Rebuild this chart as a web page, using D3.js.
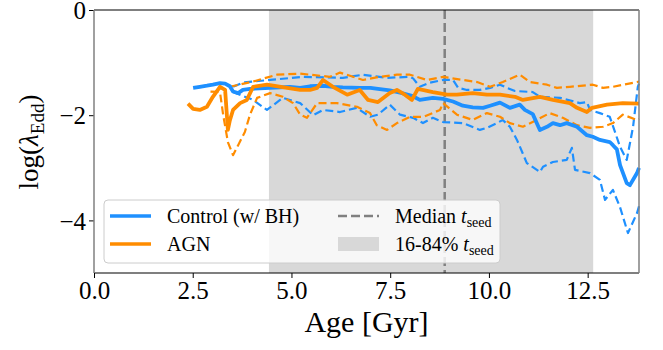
<!DOCTYPE html>
<html>
<head>
<meta charset="utf-8">
<script src="https://cdn.jsdelivr.net/npm/d3@7"></script>
<style>
  body { margin: 0; background: #fff; }
  svg text { font-family: "Liberation Serif", "DejaVu Serif", serif; }
</style>
</head>
<body>
<svg id="chart" width="663" height="350"></svg>
<script>
// data: [age in Gyr, log(lambda_Edd)]
const controlMedian = [
  [2.51,-1.48],[2.68,-1.46],[2.86,-1.44],[3.01,-1.42],[3.19,-1.39],[3.32,-1.40],[3.44,-1.45],[3.52,-1.55],
  [3.65,-1.58],[3.77,-1.52],[3.95,-1.50],[4.20,-1.49],[4.46,-1.48],[4.96,-1.46],[5.22,-1.48],[5.47,-1.45],
  [5.80,-1.44],[6.05,-1.46],[6.30,-1.47],[6.73,-1.48],[7.00,-1.48],[7.19,-1.50],[7.49,-1.53],[7.75,-1.57],
  [8.05,-1.63],[8.25,-1.71],[8.58,-1.67],[8.84,-1.69],[9.09,-1.74],[9.34,-1.82],[9.59,-1.85],[9.85,-1.86],
  [10.03,-1.82],[10.28,-1.76],[10.53,-1.86],[10.78,-1.80],[10.91,-1.90],[11.11,-1.98],[11.29,-2.28],[11.47,-2.22],
  [11.62,-2.15],[11.80,-2.19],[11.97,-2.15],[12.23,-2.22],[12.48,-2.38],[12.63,-2.41],[12.81,-2.47],[13.06,-2.51],
  [13.14,-2.57],[13.24,-2.65],[13.32,-2.95],[13.49,-3.29],[13.57,-3.33],[13.75,-3.10],[13.80,-3.00]
];
const controlHigh = [
  [3.52,-1.46],[3.77,-1.38],[4.03,-1.36],[4.46,-1.33],[5.29,-1.27],[6.30,-1.29],[6.81,-1.23],[7.42,-1.29],
  [8.00,-1.27],[8.08,-1.30],[8.25,-1.46],[8.51,-1.38],[8.84,-1.33],[9.09,-1.33],[9.22,-1.48],[9.44,-1.52],
  [9.77,-1.52],[10.03,-1.48],[10.28,-1.42],[10.46,-1.48],[10.66,-1.54],[11.11,-1.56],[11.29,-1.65],[11.80,-1.67],
  [12.30,-1.77],[12.48,-1.75],[12.56,-1.90],[12.81,-1.96],[13.06,-2.03],[13.32,-2.60],[13.49,-2.85],[13.65,-2.22],
  [13.77,-1.46],[13.80,-1.40]
];
const controlLow = [
  [3.52,-1.56],[4.03,-1.71],[4.38,-1.90],[4.78,-1.67],[5.22,-1.77],[5.55,-2.00],[5.80,-1.90],[6.23,-1.94],
  [6.65,-1.86],[6.99,-2.03],[7.19,-1.99],[7.49,-1.80],[7.75,-1.99],[8.08,-2.05],[8.33,-2.15],[8.58,-2.05],
  [8.84,-2.13],[9.34,-2.15],[9.77,-2.28],[9.95,-2.24],[10.20,-2.15],[10.35,-2.09],[10.53,-2.22],[10.71,-2.47],
  [10.96,-2.91],[11.29,-3.08],[11.37,-2.98],[11.62,-2.89],[11.97,-2.85],[12.10,-2.62],[12.18,-3.04],[12.56,-3.10],
  [12.81,-3.23],[12.94,-3.61],[13.14,-3.42],[13.32,-3.75],[13.52,-4.24],[13.75,-3.86],[13.80,-3.73]
];
const agnMedian = [
  [2.38,-1.78],[2.51,-1.88],[2.68,-1.90],[2.86,-1.84],[3.01,-1.65],[3.19,-1.46],[3.32,-1.52],[3.39,-2.28],
  [3.44,-2.10],[3.52,-1.90],[3.70,-1.77],[3.87,-1.71],[4.03,-1.46],[4.38,-1.42],[4.89,-1.48],[5.22,-1.52],
  [5.47,-1.52],[5.65,-1.48],[5.80,-1.33],[6.05,-1.46],[6.41,-1.61],[6.73,-1.52],[6.94,-1.71],[7.19,-1.75],
  [7.49,-1.58],[7.67,-1.52],[7.87,-1.61],[8.05,-1.71],[8.20,-1.50],[8.58,-1.56],[8.94,-1.61],[9.19,-1.61],
  [9.59,-1.58],[9.95,-1.61],[10.28,-1.61],[10.66,-1.65],[10.86,-1.71],[11.29,-1.65],[11.62,-1.71],[12.05,-1.77],
  [12.23,-1.86],[12.48,-1.94],[12.61,-1.86],[12.99,-1.80],[13.39,-1.77],[13.80,-1.78]
];
const agnHigh = [
  [3.44,-1.46],[4.03,-1.36],[4.63,-1.23],[5.22,-1.21],[5.97,-1.27],[6.23,-1.19],[6.81,-1.33],[7.24,-1.27],
  [7.67,-1.23],[8.00,-1.23],[8.43,-1.33],[8.84,-1.27],[9.34,-1.33],[9.70,-1.37],[10.03,-1.46],[10.35,-1.37],
  [10.78,-1.23],[11.04,-1.37],[11.47,-1.42],[11.72,-1.48],[12.05,-1.46],[12.63,-1.42],[12.89,-1.48],[13.14,-1.46],
  [13.75,-1.37],[13.80,-1.36]
];
const agnLow = [
  [2.95,-1.55],[3.19,-1.56],[3.27,-1.99],[3.39,-2.51],[3.52,-2.76],[3.65,-2.57],[3.82,-2.32],[3.95,-1.99],
  [4.13,-1.67],[4.46,-1.58],[4.78,-1.65],[5.04,-1.77],[5.22,-1.99],[5.39,-2.05],[5.65,-1.77],[6.15,-1.77],
  [6.66,-1.84],[6.99,-1.96],[7.16,-2.19],[7.42,-2.28],[7.67,-2.15],[8.00,-2.03],[8.35,-2.03],[8.76,-1.90],
  [8.84,-1.77],[9.19,-1.99],[9.59,-2.09],[9.95,-1.96],[10.28,-2.03],[10.53,-2.15],[10.86,-2.22],[11.21,-2.09],
  [11.54,-1.96],[11.87,-2.05],[12.23,-2.19],[12.56,-2.24],[12.89,-2.22],[13.14,-2.15],[13.39,-1.99],[13.75,-2.09],
  [13.80,-2.07]
];
const seedRange = [4.43, 12.64];   // 16-84% t_seed
const seedMedian = 8.88;
const xTicks = [0, 2.5, 5, 7.5, 10, 12.5];
const yTicks = [0, -2, -4];

const blue = "#1e90ff", orange = "#ff8c00";
const serif = "'Liberation Serif', 'DejaVu Serif', serif";
const margin = { top: 10, right: 24, bottom: 77, left: 94 };
const width = 663, height = 350;

const svg = d3.select("#chart").attr("font-family", serif);
const x = d3.scaleLinear().domain([0, 13.8]).range([margin.left, width - margin.right]);
const y = d3.scaleLinear().domain([-5, 0]).range([height - margin.bottom, margin.top]);

const plot = svg.append("g");

//shaded t_seed band and median line
plot.append("rect")
  .attr("x", x(seedRange[0])).attr("y", y(0))
  .attr("width", x(seedRange[1]) - x(seedRange[0]))
  .attr("height", y(-5) - y(0))
  .attr("fill", "#d8d8d8");

plot.append("line")
  .attr("x1", x(seedMedian)).attr("x2", x(seedMedian))
  .attr("y1", y(0)).attr("y2", y(-5))
  .attr("stroke", "#808080").attr("stroke-width", 2.5)
  .attr("stroke-dasharray", "9,4");

const line = d3.line().x(d => x(d[0])).y(d => y(d[1]));

//dashed percentiles first, medians on top
const series = [
  { data: controlHigh, color: blue, w: 2.2, dash: "8,4" },
  { data: controlLow, color: blue, w: 2.2, dash: "8,4" },
  { data: agnHigh, color: orange, w: 2.2, dash: "8,4" },
  { data: agnLow, color: orange, w: 2.2, dash: "8,4" },
  { data: controlMedian, color: blue, w: 3.8, dash: null },
  { data: agnMedian, color: orange, w: 3.8, dash: null }
];
series.forEach(s => {
  plot.append("path")
    .datum(s.data)
    .attr("d", line)
    .attr("fill", "none")
    .attr("stroke", s.color)
    .attr("stroke-width", s.w)
    .attr("stroke-linejoin", "round")
    .attr("stroke-dasharray", s.dash);
});

//axes
const xAxis = svg.append("g")
  .attr("transform", `translate(0,${height - margin.bottom})`)
  .call(d3.axisBottom(x).tickValues(xTicks).tickFormat(d3.format(".1f")).tickSize(5).tickSizeOuter(0));
const yAxis = svg.append("g")
  .attr("transform", `translate(${margin.left},0)`)
  .call(d3.axisLeft(y).tickValues(yTicks).tickFormat(d => d < 0 ? "\u2212" + Math.abs(d) : d).tickSize(5).tickSizeOuter(0));

[xAxis, yAxis].forEach(a => {
  a.attr("font-family", serif).attr("font-size", 25);
  a.select(".domain").remove();
  a.selectAll("text").style("font-family", serif).attr("fill", "#000");
  a.selectAll("line").attr("stroke", "#000").attr("stroke-width", 1);
});
xAxis.selectAll("text").attr("y", 8).attr("dy", "0.71em");
yAxis.selectAll("text").attr("dy", "0.35em").attr("x", -8);

//spines
const x0 = x(0), x1 = x(13.8), y0 = y(0), y1 = y(-5);
svg.append("line").attr("x1", x0).attr("x2", x1).attr("y1", y0).attr("y2", y0).attr("stroke", "#000").attr("stroke-width", 1.2);
svg.append("line").attr("x1", x0).attr("x2", x1).attr("y1", y1).attr("y2", y1).attr("stroke", "#000").attr("stroke-width", 1.2);
svg.append("line").attr("x1", x0).attr("x2", x0).attr("y1", y0).attr("y2", y1).attr("stroke", "#808080").attr("stroke-width", 1.5);
svg.append("line").attr("x1", x1).attr("x2", x1).attr("y1", y0).attr("y2", y1).attr("stroke", "#808080").attr("stroke-width", 1.5);

//axis labels
svg.append("text")
  .attr("x", (x0 + x1) / 2).attr("y", 332)
  .attr("text-anchor", "middle").attr("font-size", 30)
  .text("Age [Gyr]");

const yl = svg.append("text")
  .attr("transform", `translate(38,142) rotate(-90)`)
  .attr("text-anchor", "middle").attr("font-size", 27);
yl.append("tspan").text("log(");
yl.append("tspan").attr("font-style", "italic").text("\u03bb");
yl.append("tspan").attr("font-size", 19).attr("dy", 6).text("Edd");
yl.append("tspan").attr("dy", -6).text(")");

//legend
const lg = svg.append("g").attr("transform", "translate(104,200)");
lg.append("rect")
  .attr("width", 396).attr("height", 63).attr("rx", 4)
  .attr("fill", "#fff").attr("fill-opacity", 0.8)
  .attr("stroke", "#cccccc").attr("stroke-width", 1);

const legendItems = [
  { label: "Control (w/ BH)", kind: "line", color: blue, col: 0, row: 0 },
  { label: "AGN", kind: "line", color: orange, col: 0, row: 1 },
  { label: "Median", sub: "seed", kind: "dash", color: "#808080", col: 1, row: 0 },
  { label: "16-84%", sub: "seed", kind: "patch", color: "#d8d8d8", col: 1, row: 1 }
];
const colX = [6, 234], rowY = [16, 44];
legendItems.forEach(it => {
  const gx = colX[it.col], gy = rowY[it.row];
  if (it.kind === "patch") {
    lg.append("rect").attr("x", gx).attr("y", gy - 7).attr("width", 41).attr("height", 14).attr("fill", it.color);
  } else {
    lg.append("line")
      .attr("x1", gx).attr("x2", gx + 41).attr("y1", gy).attr("y2", gy)
      .attr("stroke", it.color).attr("stroke-width", it.kind === "dash" ? 2.5 : 3.5)
      .attr("stroke-dasharray", it.kind === "dash" ? "9,4" : null);
  }
  const t = lg.append("text")
    .attr("x", gx + 57).attr("y", gy + 7)
    .attr("font-size", 20);
  t.append("tspan").text(it.label + (it.sub ? " " : ""));
  if (it.sub) {
    t.append("tspan").attr("font-style", "italic").text("t");
    t.append("tspan").attr("font-size", 14).attr("dy", 4).text(it.sub);
  }
});
</script>
</body>
</html>
